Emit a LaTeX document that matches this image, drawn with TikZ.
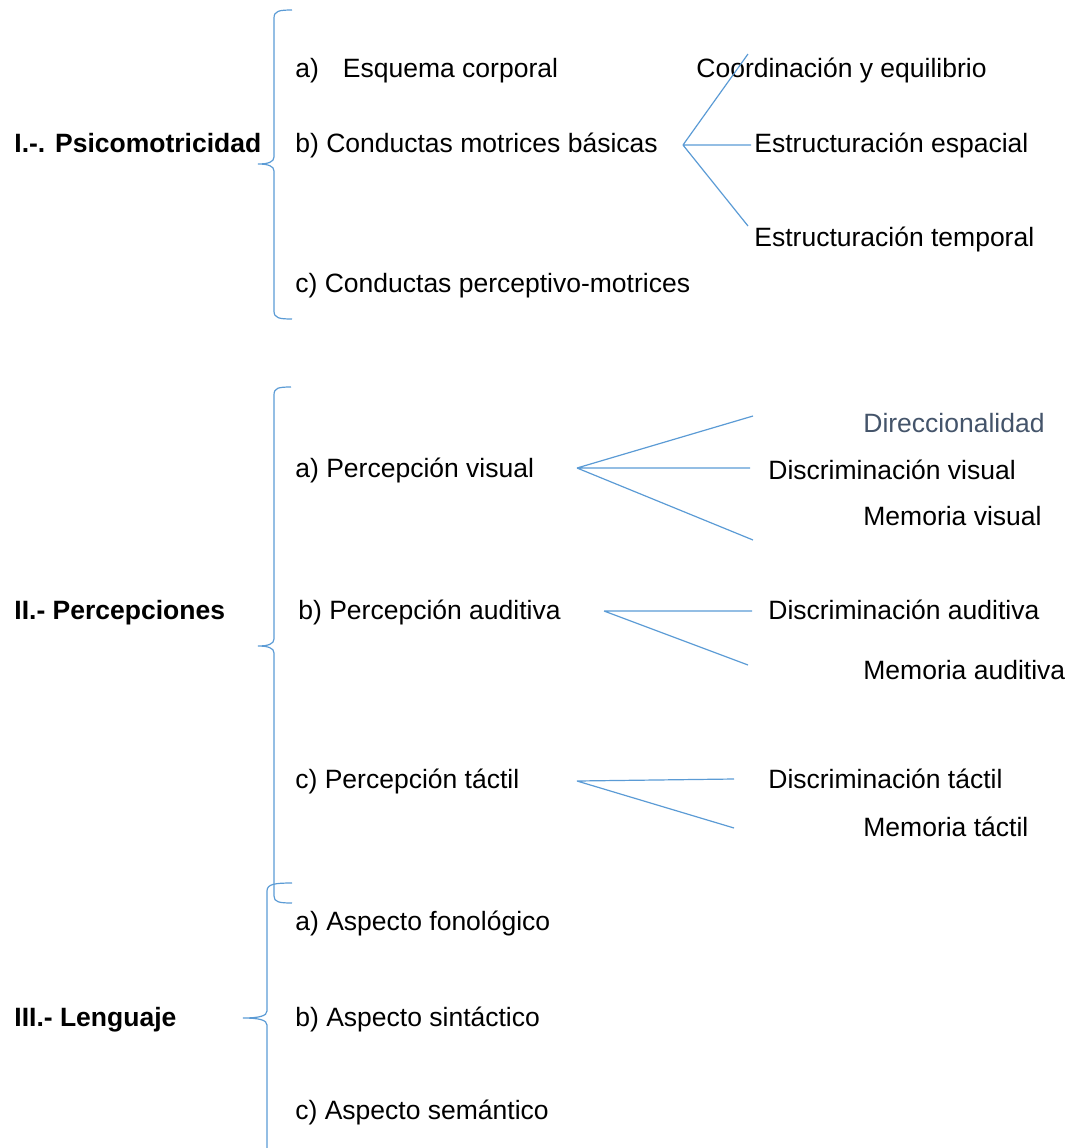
\documentclass[tikz,border=0pt]{standalone}
\usepackage{fontspec}
\setmainfont{Liberation Sans}
\definecolor{linea}{HTML}{5B9BD5}
\definecolor{gris}{HTML}{44546A}

\begin{document}
\begin{tikzpicture}[x=0.5pt,y=-0.5pt,
    every node/.style={anchor=base west,inner sep=0pt,font=\fontsize{13.25}{16}\selectfont},
    titulo/.style={font=\fontsize{13.25}{16}\selectfont\bfseries},
    rama/.style={draw=linea,line width=0.6pt},
    llave/.style={draw=linea,line width=0.6pt}]

    \useasboundingbox (0,0) rectangle (1073,1148);

    % I
    \node[titulo] (psico)     at (14,152)  {I.-. Psicomotricidad};
    \node         (esquema)   at (295,77)  {a)\hspace{12pt}Esquema corporal};
    \node         (coord)     at (696,77)  {Coordinación y equilibrio};
    \node         (conductas) at (295,152) {b) Conductas motrices básicas};
    \node         (espacial)  at (754,152) {Estructuración espacial};
    \node         (temporal)  at (754,246) {Estructuración temporal};
    \node         (perceptivo) at (295,292) {c) Conductas perceptivo-motrices};

    % II
    \node[titulo]    (percepciones) at (14,619)  {II.- Percepciones};
    \node            (visual)   at (295,477) {a) Percepción visual};
    \node[text=gris] (direc)    at (863,432) {Direccionalidad};
    \node            (discvis)  at (768,479) {Discriminación visual};
    \node            (memvis)   at (863,525) {Memoria visual};
    \node            (auditiva) at (298,619) {b) Percepción auditiva};
    \node            (discaud)  at (768,619) {Discriminación auditiva};
    \node            (memaud)   at (863,679) {Memoria auditiva};
    \node            (tactil)   at (295,788) {c) Percepción táctil};
    \node            (disctac)  at (768,788) {Discriminación táctil};
    \node            (memtac)   at (863,836) {Memoria táctil};

    % III
    \node[titulo] (lenguaje) at (14,1026)  {III.- Lenguaje};
    \node         (fono)     at (295,930)  {a) Aspecto fonológico};
    \node         (sint)     at (295,1026) {b) Aspecto sintáctico};
    \node         (sem)      at (295,1119) {c) Aspecto semántico};

    % llaves
    \draw[llave] (292,10) .. controls (279,10) and (274,11) .. (274,18) -- (274,157)
        .. controls (274,162) and (268,164) .. (258,164)
        .. controls (268,164) and (274,166) .. (274,171) -- (274,311)
        .. controls (274,318) and (279,319) .. (292,319);
    \draw[llave] (291,387) .. controls (278,387) and (274,388) .. (274,395) -- (274,639)
        .. controls (274,644) and (268,646) .. (258,646)
        .. controls (268,646) and (274,648) .. (274,653) -- (274,896)
        .. controls (274,902) and (279,903) .. (292,903);
    \draw[llave] (292,883) .. controls (275,883) and (267,884) .. (267,891) -- (267,1011)
        .. controls (267,1016) and (259,1018) .. (243,1018)
        .. controls (259,1018) and (267,1020) .. (267,1025) -- (267,1148);

    % ramas
    \coordinate (f1)  at (683,145);
    \coordinate (f1a) at (748,54);
    \coordinate (f1b) at (751,145);
    \coordinate (f1c) at (748,226);
    \coordinate (f2)  at (577,468);
    \coordinate (f2a) at (753,416);
    \coordinate (f2b) at (750,468);
    \coordinate (f2c) at (753,540);
    \coordinate (f3)  at (604,611);
    \coordinate (f3a) at (752,611);
    \coordinate (f3b) at (748,665);
    \coordinate (f4)  at (577,781);
    \coordinate (f4a) at (734,779);
    \coordinate (f4b) at (734,828);

    \draw[rama] (f1) -- (f1a) (f1) -- (f1b) (f1) -- (f1c);
    \draw[rama] (f2) -- (f2a) (f2) -- (f2b) (f2) -- (f2c);
    \draw[rama] (f3) -- (f3a) (f3) -- (f3b);
    \draw[rama] (f4) -- (f4a) (f4) -- (f4b);

\end{tikzpicture}
\end{document}
